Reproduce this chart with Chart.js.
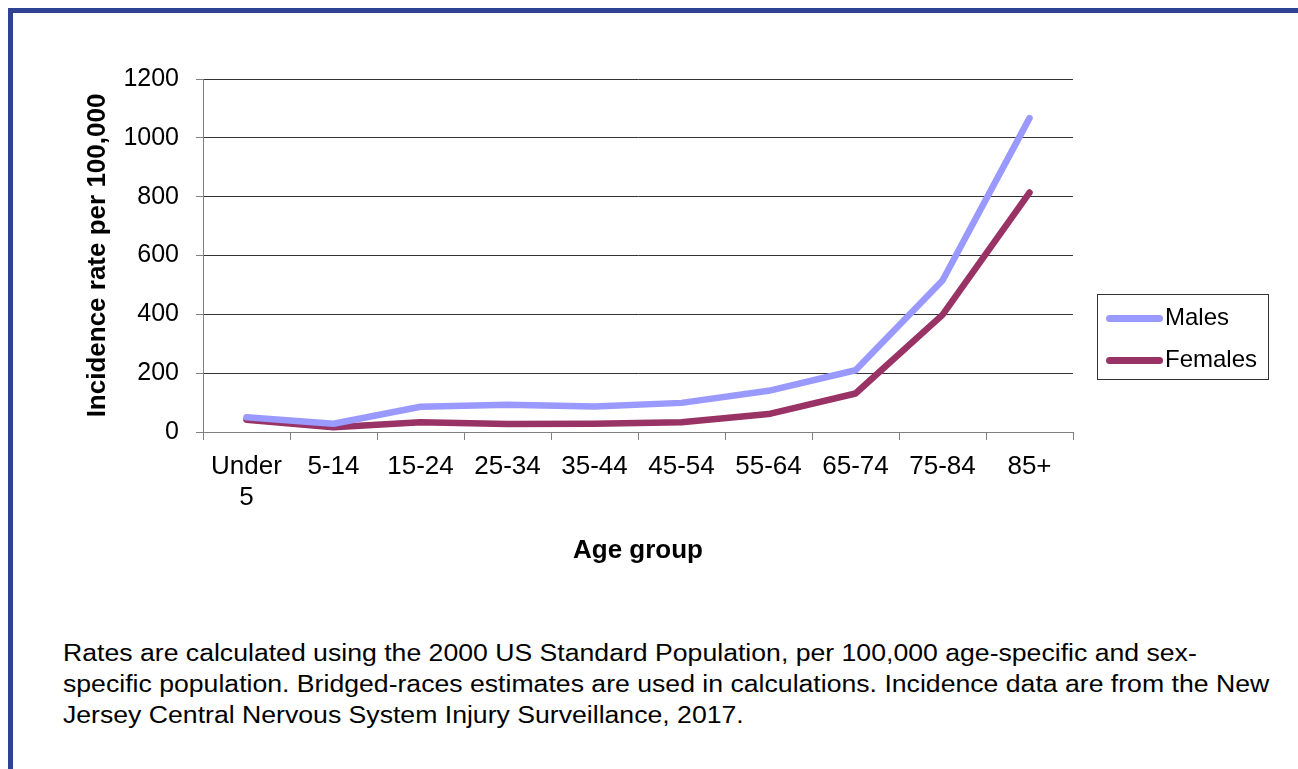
<!DOCTYPE html>
<html>
<head>
<meta charset="utf-8">
<script src="https://cdn.jsdelivr.net/npm/chart.js@4"></script>
<style>
  body { margin: 0; background: #fff; font-family: "Liberation Sans", Arial, sans-serif; }
  #frame { position: absolute; left: 8px; top: 8px; width: 1400px; height: 900px;
           border-left: 5px solid #2e4394; border-top: 5px solid #2e4394; }
  #wrap { position: absolute; left: 0; top: 0; width: 1298px; height: 600px; }
  #legend { position: absolute; left: 1097px; top: 294px; width: 170px; height: 84px;
            border: 1px solid #333; font-size: 24px; color: #000; }
  .item { position: absolute; left: 8px; height: 30px; line-height: 30px; white-space: nowrap; }
  .item span { display: inline-block; width: 57px; height: 7px; border-radius: 4px;
               vertical-align: middle; margin-right: 2px; }
  #note { position: absolute; left: 63px; top: 638px; width: 1200px; font-size: 23.5px;
          line-height: 31px; color: #000; white-space: nowrap;
          transform: scaleX(1.133); transform-origin: left top; }
</style>
</head>
<body>
<div id="frame"></div>
<div id="wrap"><canvas id="chart"></canvas></div>
<div id="legend">
  <div class="item" style="top:7px"><span style="background:#9999ff"></span>Males</div>
  <div class="item" style="top:49px"><span style="background:#993366"></span>Females</div>
</div>
<div id="note">Rates are calculated using the 2000 US Standard Population, per 100,000 age-specific and sex-<br>specific population. Bridged-races estimates are used in calculations. Incidence data are from the New<br>Jersey Central Nervous System Injury Surveillance, 2017.</div>
<script>
// 연령대
const ageGroups = [["Under", "5"], "5-14", "15-24", "25-34", "35-44", "45-54", "55-64", "65-74", "75-84", "85+"];
// 남성 / 여성 발생률 (per 100,000)
const males = [50, 28, 86, 93, 87, 99, 140, 210, 515, 1067];
const females = [42, 16, 33, 27, 28, 33, 61, 131, 398, 814];
const yTicks = [0, 200, 400, 600, 800, 1000, 1200];

const titleFont = { family: "Liberation Sans", size: 26, weight: "bold" };

const ctx = document.getElementById("chart").getContext("2d");
const chart = new Chart(ctx, {
  type: "line",
  data: {
    labels: ageGroups,
    datasets: [
      {
        label: "Males",
        data: males,
        borderColor: "#9999ff",
        borderWidth: 6.5,
        borderCapStyle: "round",
        borderJoinStyle: "round",
        pointRadius: 0,
        fill: false,
      },
      {
        label: "Females",
        data: females,
        borderColor: "#993366",
        borderWidth: 6.5,
        borderCapStyle: "round",
        borderJoinStyle: "round",
        pointRadius: 0,
        fill: false,
      },
    ],
  },
  options: {
    responsive: true,
    maintainAspectRatio: false,
    animation: false,
    layout: { padding: { top: 79, right: 225, bottom: 0, left: 0 } },
    plugins: { legend: { display: false }, tooltip: { enabled: false } },
    scales: {
      x: {
        offset: true,
        grid: { offset: true, drawOnChartArea: false, tickLength: 8, color: "#808080" },
        border: { color: "#808080", width: 1 },
        ticks: { font: { family: "Liberation Sans", size: 26 }, color: "#000", padding: 11, maxRotation: 0, autoSkip: false },
        title: { display: true, text: "Age group", font: titleFont, color: "#000", padding: { top: 0, bottom: 34 } },
        afterFit: (scale) => { scale.height = 168; },
      },
      y: {
        min: 0,
        max: 1200,
        afterBuildTicks: (scale) => { scale.ticks = yTicks.map((v) => ({ value: v })); },
        grid: { color: "#333", tickLength: 7, tickColor: "#808080" },
        border: { color: "#808080", width: 1 },
        ticks: { font: { family: "Liberation Sans", size: 25 }, color: "#000", padding: 17, callback: (v) => String(v) },
        title: { display: true, text: "Incidence rate per 100,000", font: titleFont, color: "#000", padding: { top: 82, bottom: 0 } },
        afterFit: (scale) => { scale.width = 203; },
      },
    },
  },
});
</script>
</body>
</html>
